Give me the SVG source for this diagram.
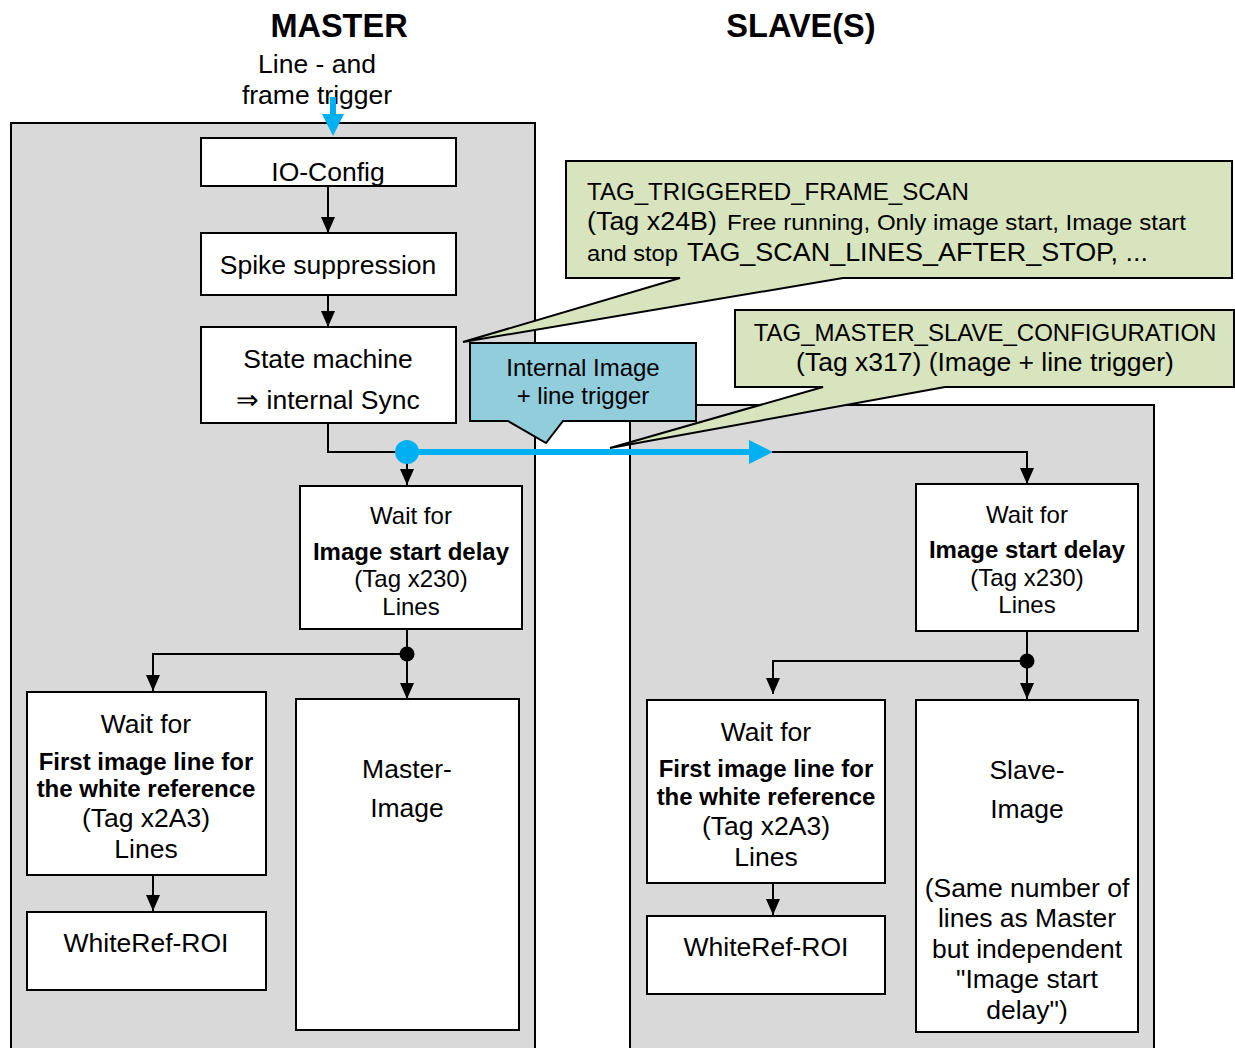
<svg xmlns="http://www.w3.org/2000/svg" width="1235" height="1048" viewBox="0 0 1235 1048">
  <style>
    text { font-family: "Liberation Sans", Arial, sans-serif; fill: #000; }
    .t26 { font-size: 26.5px; text-anchor: middle; }
    .t24 { font-size: 24px; text-anchor: middle; }
    .b24 { font-size: 24px; font-weight: bold; text-anchor: middle; }
    .title { font-size: 32.5px; font-weight: bold; text-anchor: middle; }
    .panel { fill: #d9d9d9; stroke: #000; stroke-width: 2; }
    .box { fill: #fff; stroke: #000; stroke-width: 2; }
    .note { fill: #d7e4bd; stroke: #000; stroke-width: 2; stroke-linejoin: miter; }
    .sync { fill: #92cddc; stroke: #000; stroke-width: 2; }
    .wire { fill: none; stroke: #000; stroke-width: 2; }
    .arrow { fill: none; stroke: #000; stroke-width: 2; marker-end: url(#head); }
    .blue { fill: #00b0f0; }
  </style>
  <defs>
    <marker id="head" viewBox="0 0 16 14" refX="16" refY="7" markerWidth="16" markerHeight="14" markerUnits="userSpaceOnUse" orient="auto">
      <path d="M0,0 L16,7 L0,14 z" fill="#000"/>
    </marker>
    <clipPath id="ioclip"><rect x="202" y="139" width="253" height="46"/></clipPath>
  </defs>

  <rect width="1235" height="1048" fill="#fff"/>

  <!-- headings -->
  <text class="title" x="339" y="37">MASTER</text>
  <text class="title" x="801" y="37">SLAVE(S)</text>
  <text class="t26" x="317" y="73">Line - and</text>
  <text class="t26" x="317" y="104">frame trigger</text>

  <!-- panels -->
  <rect id="master-panel" class="panel" x="11" y="123" width="524" height="940"/>
  <rect id="slave-panel" class="panel" x="630" y="405" width="524" height="660"/>

  <!-- master chain -->
  <g id="io-config">
    <rect class="box" x="201" y="138" width="255" height="48"/>
    <text class="t26" x="328" y="181" clip-path="url(#ioclip)">IO-Config</text>
  </g>
  <g id="spike-suppression">
    <rect class="box" x="201" y="233" width="255" height="62"/>
    <text class="t26" x="328" y="274">Spike suppression</text>
  </g>
  <g id="state-machine">
    <rect class="box" x="201" y="327" width="255" height="96"/>
    <text class="t26" x="328" y="368">State machine</text>
    <text class="t26" x="328" y="409">⇒ internal Sync</text>
  </g>
  <g id="master-start-delay">
    <rect class="box" x="300" y="486" width="222" height="143"/>
    <text class="t24" x="411" y="524">Wait for</text>
    <text class="b24" x="411" y="560">Image start delay</text>
    <text class="t24" x="411" y="587">(Tag x230)</text>
    <text class="t24" x="411" y="615">Lines</text>
  </g>
  <g id="master-white-wait">
    <rect class="box" x="27" y="692" width="239" height="183"/>
    <text class="t26" x="146" y="733">Wait for</text>
    <text class="b24" x="146" y="770">First image line for</text>
    <text class="b24" x="146" y="797">the white reference</text>
    <text class="t26" x="146" y="827">(Tag x2A3)</text>
    <text class="t26" x="146" y="858">Lines</text>
  </g>
  <g id="master-whiteref-roi">
    <rect class="box" x="27" y="912" width="239" height="78"/>
    <text class="t26" x="146" y="952">WhiteRef-ROI</text>
  </g>
  <g id="master-image">
    <rect class="box" x="296" y="699" width="223" height="331"/>
    <text class="t26" x="407" y="778">Master-</text>
    <text class="t26" x="407" y="817">Image</text>
  </g>

  <!-- slave chain -->
  <g id="slave-start-delay">
    <rect class="box" x="916" y="484" width="222" height="147"/>
    <text class="t24" x="1027" y="523">Wait for</text>
    <text class="b24" x="1027" y="558">Image start delay</text>
    <text class="t24" x="1027" y="586">(Tag x230)</text>
    <text class="t24" x="1027" y="613">Lines</text>
  </g>
  <g id="slave-white-wait">
    <rect class="box" x="647" y="700" width="238" height="183"/>
    <text class="t26" x="766" y="741">Wait for</text>
    <text class="b24" x="766" y="777">First image line for</text>
    <text class="b24" x="766" y="805">the white reference</text>
    <text class="t26" x="766" y="835">(Tag x2A3)</text>
    <text class="t26" x="766" y="866">Lines</text>
  </g>
  <g id="slave-whiteref-roi">
    <rect class="box" x="647" y="916" width="238" height="78"/>
    <text class="t26" x="766" y="956">WhiteRef-ROI</text>
  </g>
  <g id="slave-image">
    <rect class="box" x="916" y="700" width="222" height="332"/>
    <text class="t26" x="1027" y="779">Slave-</text>
    <text class="t26" x="1027" y="818">Image</text>
    <text class="t26" x="1027" y="897">(Same number of</text>
    <text class="t26" x="1027" y="927">lines as Master</text>
    <text class="t26" x="1027" y="958">but independent</text>
    <text class="t26" x="1027" y="988">"Image start</text>
    <text class="t26" x="1027" y="1019">delay")</text>
  </g>

  <!-- connectors -->
  <g id="connectors">
    <!-- external trigger input -->
    <rect class="blue" x="330" y="97" width="6" height="19"/>
    <polygon class="blue" points="322,114 344,114 333,136"/>

    <line class="arrow" x1="328" y1="186" x2="328" y2="233"/>
    <line class="arrow" x1="328" y1="295" x2="328" y2="327"/>
    <polyline class="wire" points="328,423 328,452 407,452"/>
    <line class="arrow" x1="407" y1="452" x2="407" y2="485"/>

    <!-- internal sync to slave -->
    <rect class="blue" x="407" y="449" width="345" height="6"/>
    <polygon class="blue" points="749,440 773,452 749,464"/>
    <polyline class="wire" points="772,452 1027,452 1027,470"/>
    <line class="arrow" x1="1027" y1="466" x2="1027" y2="484"/>
    <circle class="blue" cx="407" cy="452" r="12"/>

    <!-- master branch -->
    <line class="arrow" x1="407" y1="629" x2="407" y2="699"/>
    <polyline class="wire" points="407,654 153,654 153,670"/>
    <line class="arrow" x1="153" y1="666" x2="153" y2="691"/>
    <circle cx="407" cy="654" r="7.5" fill="#000"/>
    <line class="arrow" x1="153" y1="875" x2="153" y2="911"/>

    <!-- slave branch -->
    <line class="arrow" x1="1027" y1="631" x2="1027" y2="699"/>
    <polyline class="wire" points="1027,661 773,661 773,675"/>
    <line class="arrow" x1="773" y1="670" x2="773" y2="694"/>
    <circle cx="1027" cy="661" r="7.5" fill="#000"/>
    <line class="arrow" x1="773" y1="883" x2="773" y2="915"/>
  </g>

  <!-- callouts -->
  <g id="note-frame-scan">
    <path class="note" d="M566,161 H1232 V278 H843 L463,342 L680,278 H566 Z"/>
    <text x="587" y="200" font-size="24" textLength="382" lengthAdjust="spacingAndGlyphs">TAG_TRIGGERED_FRAME_SCAN</text>
    <text x="587" y="230"><tspan font-size="25" textLength="130" lengthAdjust="spacingAndGlyphs">(Tag x24B)</tspan><tspan x="727" font-size="22" textLength="459" lengthAdjust="spacingAndGlyphs">Free running, Only image start, Image start</tspan></text>
    <text x="587" y="261"><tspan font-size="22" textLength="91" lengthAdjust="spacingAndGlyphs">and stop</tspan><tspan x="687" font-size="25" textLength="461" lengthAdjust="spacingAndGlyphs">TAG_SCAN_LINES_AFTER_STOP, ...</tspan></text>
  </g>
  <g id="note-internal-trigger">
    <path class="sync" d="M470,343 H696 V421 H563 L546,443 L508,421 H470 Z"/>
    <text class="t24" x="583" y="376">Internal Image</text>
    <text class="t24" x="583" y="404">+ line trigger</text>
  </g>
  <g id="note-master-slave">
    <path class="note" d="M735,310 H1234 V387 H945 L610,448 L823,387 H735 Z"/>
    <text class="t24" x="985" y="341">TAG_MASTER_SLAVE_CONFIGURATION</text>
    <text x="985" y="371" font-size="26.5" text-anchor="middle">(Tag x317) (Image + line trigger)</text>
  </g>
</svg>
